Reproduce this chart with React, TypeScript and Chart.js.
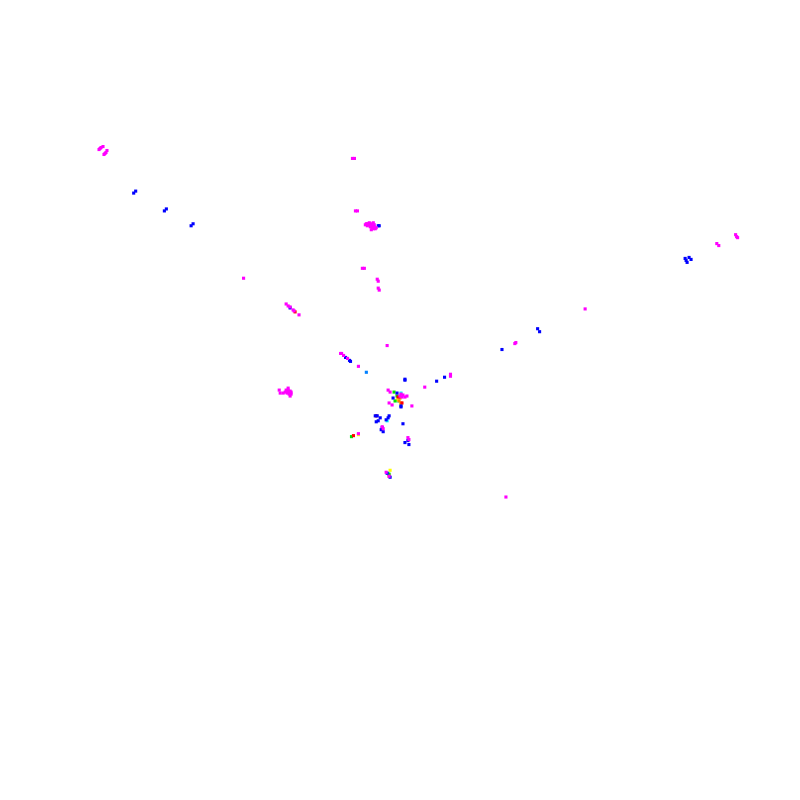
import React, { useEffect, useRef } from "react";
import { Chart, registerables } from "chart.js";

Chart.register(...registerables);

type P = [number, number];

const magentaPts: P[] = [
  [96, 147], [97, 146], [98, 145], [100, 144], [101, 152], [102, 151], [103, 150], [104, 148],
  [352, 156], [354, 156], [355, 209], [357, 209],
  [365, 223], [367, 222], [369, 221], [371, 222], [373, 221], [374, 223], [367, 224], [370, 225], [372, 226], [374, 225], [371, 228], [376, 226],
  [369, 223], [372, 224], [366, 222], [373, 227], [375, 227],
  [362, 267], [364, 267], [377, 278], [378, 280], [378, 287], [379, 289],
  [242, 277], [285, 303], [287, 305], [289, 306], [292, 309], [293, 310], [298, 314],
  [278, 390], [279, 393], [282, 393], [285, 390], [287, 388], [288, 392], [290, 394], [289, 396], [286, 393], [284, 392],
  [287, 390], [289, 391], [290, 392], [286, 391], [288, 394],
  [507, 498], [739, 233], [740, 235], [741, 236], [720, 242], [722, 244], [587, 308], [517, 342], [516, 343],
  [340, 353], [341, 353], [343, 355], [347, 358], [358, 366], [387, 345],
  [388, 390], [390, 392], [401, 394], [403, 395], [400, 396], [402, 397], [405, 397], [407, 396], [389, 403], [392, 405], [412, 406], [425, 387], [451, 374], [451, 376],
  [382, 427], [383, 429], [408, 438], [409, 440], [358, 434], [386, 473], [389, 477],
];
const bluePts: P[] = [
  [131, 191], [133, 189], [162, 209], [164, 207], [189, 224], [191, 222], [378, 224], [379, 224], [289, 307],
  [688, 257], [689, 259], [690, 261], [692, 256], [694, 258], [539, 328], [541, 331], [503, 349],
  [345, 357], [349, 360], [350, 361], [405, 379], [405, 380], [437, 381], [445, 377],
  [397, 393], [393, 398], [401, 406], [401, 407],
  [375, 416], [377, 416], [380, 418], [376, 422], [378, 421], [386, 420], [388, 418], [389, 416], [381, 430], [382, 428], [383, 432], [403, 424], [408, 441], [405, 443], [409, 445], [387, 474], [390, 478],
];
const redPts: P[] = [[294, 311], [398, 397], [402, 403], [376, 416], [353, 436]];
const greenPts: P[] = [[394, 392], [395, 401], [397, 396], [389, 475], [351, 437]];
const orangePts: P[] = [[400, 398], [401, 403], [399, 401], [389, 477]];
const yellowPts: P[] = [[397, 400], [401, 404], [390, 471], [358, 435]];
const cyanPts: P[] = [[398, 401], [401, 393], [388, 474], [387, 421]];
const azurePts: P[] = [[366, 372]];

const series: { pts: P[]; color: string }[] = [
  { pts: magentaPts, color: "#ff00ff" },
  { pts: bluePts, color: "#0000ff" },
  { pts: redPts, color: "#ff0000" },
  { pts: greenPts, color: "#00e000" },
  { pts: orangePts, color: "#ff8000" },
  { pts: yellowPts, color: "#ffff00" },
  { pts: cyanPts, color: "#00ffff" },
  { pts: azurePts, color: "#0080ff" },
];

export default function App() {
  const ref = useRef<HTMLCanvasElement | null>(null);
  useEffect(() => {
    if (!ref.current) return;
    const chart = new Chart(ref.current, {
      type: "scatter",
      data: {
        datasets: series.map((s) => ({
          data: s.pts.map(([x, y]) => ({ x, y })),
          backgroundColor: s.color,
          borderColor: s.color,
          pointStyle: "rect",
          pointRadius: 2.2,
          pointBorderWidth: 0,
        })),
      },
      options: {
        responsive: false,
        animation: false,
        layout: { padding: 0 },
        plugins: { legend: { display: false }, tooltip: { enabled: false } },
        scales: {
          x: { type: "linear", min: 0, max: 800, display: false },
          y: { type: "linear", min: 0, max: 800, reverse: true, display: false },
        },
      },
    });
    return () => chart.destroy();
  }, []);
  return (
    <div style={{ position: "fixed", left: 0, top: 0, width: 800, height: 800, background: "#fff" }}>
      <canvas ref={ref} width={800} height={800} />
    </div>
  );
}
